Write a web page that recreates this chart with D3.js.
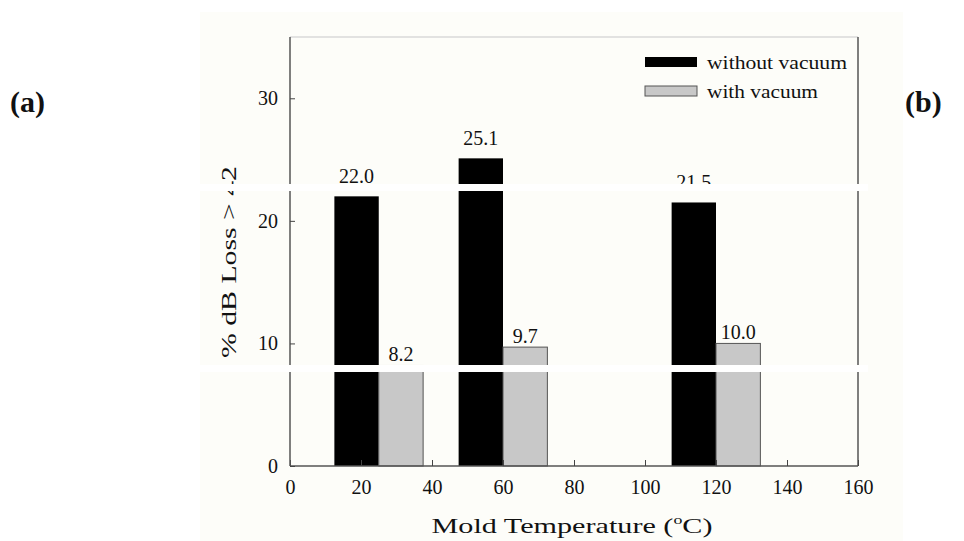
<!DOCTYPE html>
<html>
<head>
<meta charset="utf-8">
<script src="https://cdn.jsdelivr.net/npm/d3@7"></script>
<style>
  body { margin: 0; background: #fff; }
  svg { display: block; }
  text { font-family: "Liberation Serif", "Times New Roman", serif; fill: #111; }
</style>
</head>
<body>
<div class="rellenar"></div>
<script>
// datos
var temps = [25, 60, 120];
var sinVacio = [22.0, 25.1, 21.5];
var conVacio = [8.2, 9.7, 10.0];
var xTicks = [0, 20, 40, 60, 80, 100, 120, 140, 160];
var yTicks = [0, 10, 20, 30];
var series = ["without vacuum", "with vacuum"];
var barAncho = 12.5;

var w = 964;
var h = 541;

var svg = d3.select('.rellenar')
    .append('svg')
    .attr("width", w)
    .attr("height", h);

// fondo del escaneo
svg.append("rect")
    .attr("x", 200).attr("y", 12)
    .attr("width", 703).attr("height", 529)
    .attr("fill", "#fdfdf9");

var x = d3.scaleLinear().domain([0, 160]).range([290, 858]);
var y = d3.scaleLinear().domain([0, 35]).range([466, 37]);

// marco
svg.append("line")
    .attr("x1", 290).attr("x2", 858).attr("y1", 37).attr("y2", 37)
    .attr("stroke", "#d8d8d8").attr("stroke-width", 1.5);
svg.append("line")
    .attr("x1", 858).attr("x2", 858).attr("y1", 37).attr("y2", 466)
    .attr("stroke", "#555").attr("stroke-width", 1.5);

// barras
svg.selectAll("rect.negra")
    .data(sinVacio)
    .enter()
    .append("rect")
    .attr("class", "negra")
    .attr("x", function(d, i) { return x(temps[i] - barAncho); })
    .attr("y", function(d) { return y(d); })
    .attr("width", function(d, i) { return x(temps[i]) - x(temps[i] - barAncho); })
    .attr("height", function(d) { return y(0) - y(d); })
    .attr("fill", "#000");

svg.selectAll("rect.gris")
    .data(conVacio)
    .enter()
    .append("rect")
    .attr("class", "gris")
    .attr("x", function(d, i) { return x(temps[i]); })
    .attr("y", function(d) { return y(d); })
    .attr("width", function(d, i) { return x(temps[i] + barAncho) - x(temps[i]); })
    .attr("height", function(d) { return y(0) - y(d); })
    .attr("fill", "#c8c8c8")
    .attr("stroke", "#555")
    .attr("stroke-width", 1);

// etiquetas de valores
svg.selectAll("text.vneg")
    .data(sinVacio)
    .enter()
    .append("text")
    .attr("class", "vneg")
    .text(function(d) { return d.toFixed(1); })
    .attr("x", function(d, i) { return x(temps[i] - barAncho / 2); })
    .attr("y", function(d) { return y(d) - 13; })
    .attr("text-anchor", "middle")
    .attr("font-size", 20);

svg.selectAll("text.vgris")
    .data(conVacio)
    .enter()
    .append("text")
    .attr("class", "vgris")
    .text(function(d) { return d.toFixed(1); })
    .attr("x", function(d, i) { return x(temps[i] + barAncho / 2); })
    .attr("y", function(d) { return y(d) - 4; })
    .attr("text-anchor", "middle")
    .attr("font-size", 20);

// ejes
var ejeX = svg.append("g")
    .attr("transform", "translate(0," + y(0) + ")")
    .call(d3.axisBottom(x).tickValues(xTicks).tickSize(-6).tickPadding(14));
var ejeY = svg.append("g")
    .attr("transform", "translate(" + x(0) + ",0)")
    .call(d3.axisLeft(y).tickValues(yTicks).tickSize(-5).tickPadding(12));

[ejeX, ejeY].forEach(function(g) {
    g.select(".domain").attr("stroke", "#555").attr("stroke-width", 1.5);
    g.selectAll(".tick line").attr("stroke", "#444");
    g.selectAll(".tick text")
        .attr("font-size", 20)
        .attr("fill", "#111");
});
ejeY.select(".domain").attr("d", "M0," + y(35) + "V" + y(0));
ejeX.select(".domain").attr("d", "M" + x(0) + ",0H" + x(160));

// titulos (el escaneo esta estirado a lo ancho)
var tx = svg.append("text")
    .attr("x", 572).attr("y", 533)
    .attr("text-anchor", "middle")
    .attr("font-size", 22)
    .attr("textLength", 281)
    .attr("lengthAdjust", "spacingAndGlyphs");
tx.append("tspan").text("Mold Temperature (");
tx.append("tspan").text("o").attr("font-size", 13).attr("dy", -9);
tx.append("tspan").text("C)").attr("dy", 9);

svg.append("text")
    .attr("transform", "translate(236,262) rotate(-90)")
    .attr("text-anchor", "middle")
    .attr("font-size", 22)
    .attr("textLength", 192)
    .attr("lengthAdjust", "spacingAndGlyphs")
    .text("% dB Loss > 42");

// leyenda
var colores = ["#000", "#c8c8c8"];
var largos = [140, 111];
var ley = svg.selectAll("g.ley")
    .data(series)
    .enter()
    .append("g")
    .attr("class", "ley")
    .attr("transform", function(d, i) { return "translate(645," + (57 + i * 29) + ")"; });
ley.append("rect")
    .attr("width", 52).attr("height", 10)
    .attr("fill", function(d, i) { return colores[i]; })
    .attr("stroke", function(d, i) { return i ? "#555" : "none"; });
ley.append("text")
    .attr("x", 62).attr("y", 12)
    .attr("font-size", 19)
    .attr("textLength", function(d, i) { return largos[i]; })
    .attr("lengthAdjust", "spacingAndGlyphs")
    .text(function(d) { return d; });

// franjas blancas del escaneo
[[184, 7], [365, 7]].forEach(function(f) {
    svg.append("rect")
        .attr("x", 200).attr("y", f[0])
        .attr("width", 668).attr("height", f[1])
        .attr("fill", "#fff");
});

// (a) y (b)
svg.append("text").attr("x", 10).attr("y", 112)
    .attr("font-size", 30).attr("font-weight", "bold").text("(a)");
svg.append("text").attr("x", 905).attr("y", 112)
    .attr("font-size", 30).attr("font-weight", "bold").text("(b)");
</script>
</body>
</html>
